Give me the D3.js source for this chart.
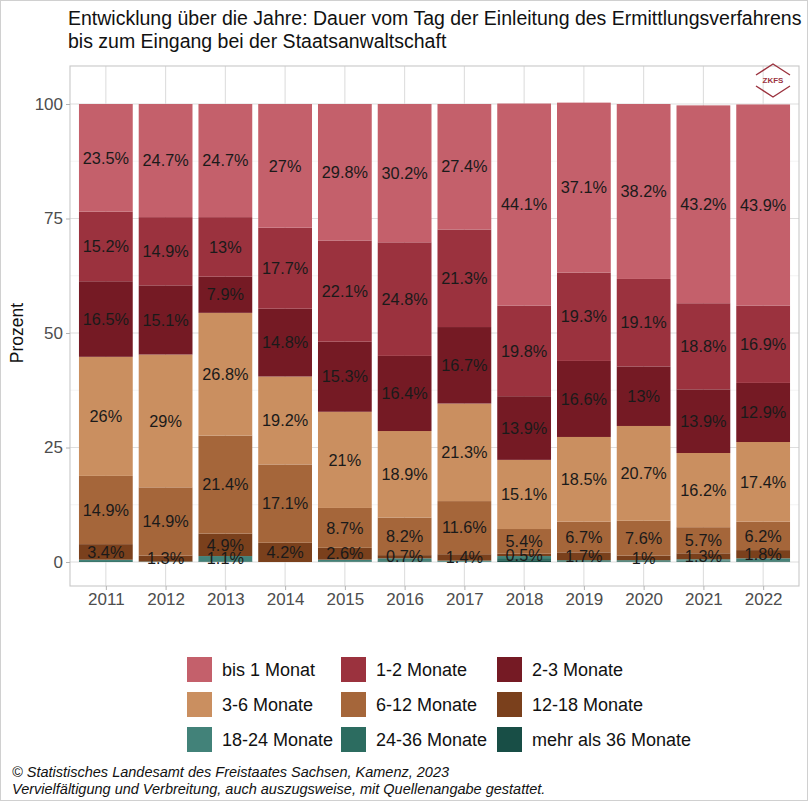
<!DOCTYPE html>
<html><head><meta charset="utf-8">
<script src="https://cdn.jsdelivr.net/npm/d3@7"></script>
<style>body{margin:0;background:#fff;}svg{display:block;font-family:"Liberation Sans",Arial,sans-serif;}</style>
</head><body><svg id="c" width="808" height="801"></svg>
<script>
const years = ["2011","2012","2013","2014","2015","2016","2017","2018","2019","2020","2021","2022"];
const categories = ["bis 1 Monat","1-2 Monate","2-3 Monate","3-6 Monate","6-12 Monate","12-18 Monate","18-24 Monate","24-36 Monate","mehr als 36 Monate"];
const colors = ["#C4606B","#9B323E","#751A24","#CA8F60","#A5663A","#7A401C","#428279","#2C6C60","#184E46"];
const bis1   = [23.5,24.7,24.7,27,29.8,30.2,27.4,44.1,37.1,38.2,43.2,43.9];
const m1_2   = [15.2,14.9,13,17.7,22.1,24.8,21.3,19.8,19.3,19.1,18.8,16.9];
const m2_3   = [16.5,15.1,7.9,14.8,15.3,16.4,16.7,13.9,16.6,13,13.9,12.9];
const m3_6   = [26,29,26.8,19.2,21,18.9,21.3,15.1,18.5,20.7,16.2,17.4];
const m6_12  = [14.9,14.9,21.4,17.1,8.7,8.2,11.6,5.4,6.7,7.6,5.7,6.2];
const m12_18 = [3.4,1.3,4.9,4.2,2.6,0.7,1.4,0.5,1.7,1,1.3,1.8];
const m18_24 = [0.3,0.1,1.1,0,0.3,0.4,0.2,0.45,0.2,0.2,0.3,0.4];
const m24_36 = [0.2,0,0.1,0,0.1,0.3,0.1,0.45,0.1,0.1,0.2,0.3];
const m36    = [0,0,0.1,0,0.1,0.1,0,0.4,0.1,0.1,0.1,0.1];
const series = [bis1,m1_2,m2_3,m3_6,m6_12,m12_18,m18_24,m24_36,m36];
const yTicks = [0,25,50,75,100];
const yMinor = [12.5,37.5,62.5,87.5];

const svg = d3.select("#c");
const P = {l:70, r:799, t:66, b:586};
const x = d3.scalePoint().domain(years).range([P.l,P.r]).padding(0.6);
const bw = x.step()*0.9;
const y = d3.scaleLinear().domain([0,100]).range([562,104]);

// outer frame
svg.append("rect").attr("x",0.5).attr("y",0.5).attr("width",807).attr("height",800).attr("fill","none").attr("stroke","#d0d0d0");

// title
const title = svg.append("text").attr("x",68).attr("y",25).attr("font-size",19.5).attr("fill","#111");
title.append("tspan").attr("x",68).attr("dy",0).text("Entwicklung über die Jahre: Dauer vom Tag der Einleitung des Ermittlungsverfahrens");
title.append("tspan").attr("x",68).attr("dy",23).text("bis zum Eingang bei der Staatsanwaltschaft");

// grid
const g = svg.append("g");
g.selectAll(".mn").data(yMinor).join("line").attr("x1",P.l).attr("x2",P.r).attr("y1",d=>y(d)).attr("y2",d=>y(d)).attr("stroke","#ececec").attr("stroke-width",0.6);
g.selectAll(".mj").data(yTicks).join("line").attr("x1",P.l).attr("x2",P.r).attr("y1",d=>y(d)).attr("y2",d=>y(d)).attr("stroke","#dedede").attr("stroke-width",1.1);
g.selectAll(".vx").data(years).join("line").attr("x1",d=>x(d)).attr("x2",d=>x(d)).attr("y1",P.t).attr("y2",P.b).attr("stroke","#dedede").attr("stroke-width",1.1);

// stacked bars (first category on top)
const rows = years.map((yr,i)=>{const o={year:yr}; categories.forEach((c,k)=>o[c]=series[k][i]); return o;});
const stackOrder = categories.slice().reverse();
const stacked = d3.stack().keys(stackOrder)(rows);
const color = d3.scaleOrdinal().domain(categories).range(colors);
const layers = svg.append("g").selectAll("g").data(stacked).join("g").attr("fill",d=>color(d.key));
layers.selectAll("rect").data(d=>d).join("rect")
  .attr("x",d=>x(d.data.year)-bw/2).attr("width",bw)
  .attr("y",d=>y(d[1])).attr("height",d=>Math.max(0,y(d[0])-y(d[1])));

// labels
const lab = svg.append("g").attr("font-size",16.3).attr("fill","#1a1a1a").attr("text-anchor","middle");
stacked.forEach(layer=>{
  layer.forEach(d=>{
    const v = d.data[layer.key];
    if (v>=0.5){
      lab.append("text").attr("x",x(d.data.year)).attr("y",y((d[0]+d[1])/2)).attr("dy","0.35em").text(d3.format("")(v)+"%");
    }
  });
});

// panel border
svg.append("rect").attr("x",P.l).attr("y",P.t).attr("width",P.r-P.l).attr("height",P.b-P.t).attr("fill","none").attr("stroke","#c8c8c8").attr("stroke-width",1.1);

// axes
const ax = svg.append("g").attr("transform",`translate(0,${P.b})`).call(d3.axisBottom(x).tickSize(4).tickPadding(3));
ax.select(".domain").remove();
ax.selectAll("line").attr("stroke","#b3b3b3");
ax.selectAll("text").attr("font-size",17).attr("fill","#4d4d4d").attr("font-family","Liberation Sans,Arial,sans-serif");
const ay = svg.append("g").attr("transform",`translate(${P.l},0)`).call(d3.axisLeft(y).tickValues(yTicks).tickSize(4).tickPadding(3));
ay.select(".domain").remove();
ay.selectAll("line").attr("stroke","#b3b3b3");
ay.selectAll("text").attr("font-size",17).attr("fill","#4d4d4d").attr("font-family","Liberation Sans,Arial,sans-serif");

svg.append("text").attr("transform",`translate(23,333) rotate(-90)`).attr("text-anchor","middle").attr("font-size",17.5).attr("fill","#111").text("Prozent");

// logo
const lg = svg.append("g").attr("transform","translate(773,80)");
lg.append("path").attr("d","M-17,-5 L0,-16 L17,-5").attr("fill","none").attr("stroke","#9B323E").attr("stroke-width",1.4);
lg.append("path").attr("d","M-17,6 L0,17 L17,6").attr("fill","none").attr("stroke","#9B323E").attr("stroke-width",1.4);
lg.append("text").attr("text-anchor","middle").attr("dy","0.35em").attr("font-size",8).attr("font-weight","bold").attr("fill","#9B323E").text("ZKFS");

// legend
const lcolX = [187,341,497];
const lrowY = [657,692,727];
const leg = svg.append("g");
categories.forEach((c,i)=>{
  const cx = lcolX[i%3], cy = lrowY[Math.floor(i/3)];
  leg.append("rect").attr("x",cx).attr("y",cy).attr("width",25).attr("height",25).attr("fill",color(c));
  leg.append("text").attr("x",cx+35).attr("y",cy+12.5).attr("dy","0.35em").attr("font-size",18).attr("fill","#111").text(c);
});

// caption
const cap = svg.append("text").attr("font-size",14.5).attr("font-style","italic").attr("fill","#111");
cap.append("tspan").attr("x",12).attr("y",777).text("© Statistisches Landesamt des Freistaates Sachsen, Kamenz, 2023");
cap.append("tspan").attr("x",12).attr("y",794).text("Vervielfältigung und Verbreitung, auch auszugsweise, mit Quellenangabe gestattet.");
</script></body></html>
